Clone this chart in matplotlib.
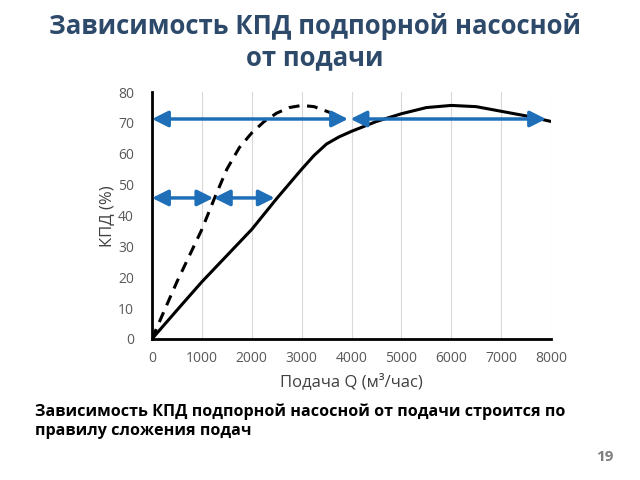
import numpy as np
import matplotlib
matplotlib.use("Agg")
import matplotlib.pyplot as plt

plt.rcParams['font.family'] = ['Open Sans', 'DejaVu Sans']

# two pumps in parallel (solid) and one pump (dashed)
q_solid = [0, 500, 1000, 1500, 2000, 2500, 3000, 3250, 3500, 3750, 4000, 4500, 5000, 5500, 6000, 6500, 7000, 7500, 8000]
eta_solid = [0, 9.3, 18.5, 27, 35.5, 45.5, 55, 59.5, 63.2, 65.5, 67.3, 70.5, 73, 75, 75.7, 75.3, 73.8, 72.3, 70.5]
q_dash = [0, 250, 500, 750, 1000, 1250, 1500, 1750, 2000, 2250, 2500, 2750, 3000, 3250, 3500, 3750]
eta_dash = [0, 9.3, 18.5, 27, 35.5, 45.5, 55, 62, 66.8, 70.5, 73.2, 75, 75.7, 75.3, 73.8, 72.3]

# arrows: (start Q, end Q, level)
arrows = [(0, 3930, 71.3), (3980, 7900, 71.3), (0, 1230, 45.7), (1240, 2460, 45.7)]

xticks = [0, 1000, 2000, 3000, 4000, 5000, 6000, 7000, 8000]
yticks = [0, 10, 20, 30, 40, 50, 60, 70, 80]

fig = plt.figure(figsize=(6.4, 4.8), dpi=100)
ax = fig.add_axes([0.2375, 0.294, 0.6235, 0.514])

ax.plot(q_solid, eta_solid, color='black', lw=2.2, solid_capstyle='round')
ax.plot(q_dash, eta_dash, color='black', lw=2.2, ls=(0, (3.5, 2.5)))

blue = '#1F6FB8'
for a, b, y in arrows:
    ax.annotate('', xy=(b, y), xytext=(a, y),
                arrowprops=dict(arrowstyle='<|-|>', color=blue, lw=2.5,
                                mutation_scale=24, shrinkA=0, shrinkB=0))

ax.set_xlim(0, 8000)
ax.set_ylim(0, 80)
ax.set_xticks(xticks)
ax.set_yticks(yticks)
ax.grid(axis='x', color='#d9d9d9', lw=0.8)
ax.set_axisbelow(True)
ax.tick_params(length=0, labelsize=10, labelcolor='#595959', pad=9)
ax.tick_params(axis='y', pad=13)
for s in ['top', 'right']:
    ax.spines[s].set_visible(False)
ax.spines['left'].set_linewidth(2)
ax.spines['bottom'].set_linewidth(2)
ax.set_xlabel('Подача Q (м³/час)', fontsize=12, color='#404040', labelpad=5)

fig.text(0.168, 0.55, 'КПД (%)', rotation=90, fontsize=12, color='#404040',
         ha='center', va='center')

fig.text(0.492, 0.912, 'Зависимость КПД подпорной насосной\nот подачи',
         ha='center', va='center', fontsize=18.5, fontweight='bold',
         color='#2E4A6B', linespacing=1.2)

fig.text(0.055, 0.122, 'Зависимость КПД подпорной насосной от подачи строится по\nправилу сложения подач',
         ha='left', va='center', fontsize=11.6, fontweight='bold', color='black',
         linespacing=1.2)

fig.text(0.945, 0.048, '19', ha='center', va='center', fontsize=11,
         fontweight='bold', color='#7f7f7f')

fig.savefig('out.png', dpi=100)
